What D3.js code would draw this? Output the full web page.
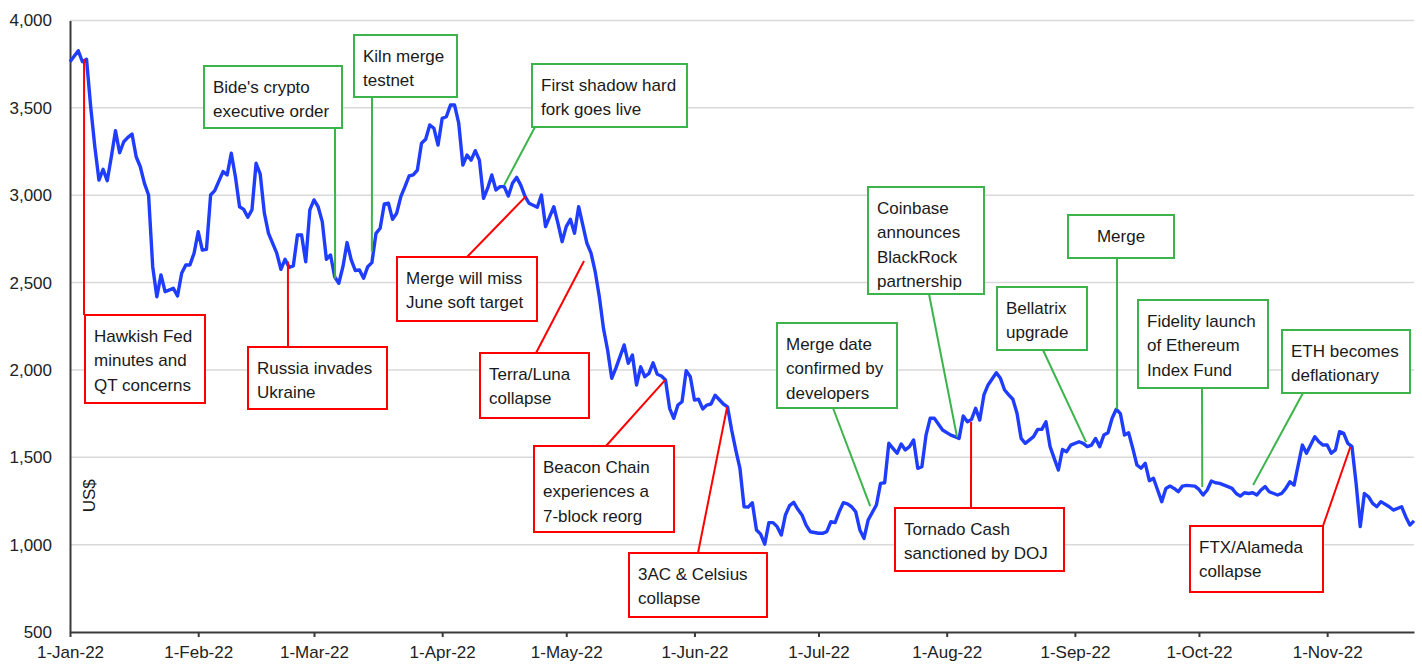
<!DOCTYPE html>
<html>
<head>
<meta charset="utf-8">
<script src="https://cdn.jsdelivr.net/npm/d3@7"></script>
<style>
  body { margin: 0; background: #fff; }
  svg { display: block; font-family: "Liberation Sans", Arial, sans-serif; }
  .grid line { stroke: #d9d9d9; stroke-width: 1.5; }
  .axis path, .axis line { stroke: #3a3a3a; stroke-width: 2; }
  .axis text { fill: #222; font-size: 17px; }
  .eth-line { fill: none; stroke: #1f3dff; stroke-width: 3.4; stroke-linejoin: round; }
  .note-box { fill: #fff; stroke-width: 2; }
  .note-link { stroke-width: 2; }
  .note-text { fill: #1a1a1a; font-size: 17px; }
</style>
</head>
<body>
<div id="chart"></div>
<script>

// ETH price (US$); day = days after 1-Jan-22
var days = [
  0, 2, 3, 4, 5, 6, 7, 8, 9, 10,
  11, 12, 13, 14, 15, 16, 17, 18, 19, 20,
  21, 22, 23, 25, 26, 27, 28, 29, 30, 31,
  32, 33, 34, 35, 37, 38, 39, 40, 41, 42,
  43, 44, 45, 46, 47, 48, 50, 51, 52, 53,
  54, 55, 56, 57, 58, 59, 60, 61, 62, 63,
  64, 65, 66, 67, 68, 69, 70, 71, 72, 73,
  74, 75, 76, 77, 78, 79, 80, 81, 82, 83,
  84, 85, 86, 87, 88, 89, 90, 91, 92, 93,
  94, 95, 96, 97, 98, 99, 100, 101, 102, 103,
  104, 105, 106, 107, 108, 109, 110, 111, 113, 114,
  115, 116, 117, 118, 119, 120, 121, 122, 123, 125,
  126, 127, 128, 129, 130, 131, 132, 133, 134, 135,
  136, 137, 138, 139, 140, 141, 142, 143, 144, 145,
  146, 147, 148, 149, 150, 151, 152, 153, 154, 155,
  156, 158, 159, 160, 161, 162, 163, 164, 165, 166,
  167, 168, 169, 170, 171, 172, 173, 174, 175, 176,
  177, 178, 179, 181, 182, 183, 184, 185, 186, 187,
  188, 189, 190, 191, 192, 193, 195, 196, 197, 198,
  199, 200, 201, 202, 203, 204, 205, 206, 207, 208,
  209, 211, 213, 214, 215, 216, 217, 218, 219, 220,
  221, 222, 224, 225, 226, 227, 228, 229, 230, 231,
  233, 234, 235, 236, 237, 238, 239, 240, 241, 242,
  244, 245, 246, 247, 248, 249, 250, 251, 252, 253,
  254, 255, 256, 257, 258, 259, 260, 261, 262, 263,
  264, 265, 266, 267, 268, 269, 270, 272, 273, 274,
  275, 276, 277, 278, 280, 281, 282, 283, 284, 285,
  286, 287, 288, 289, 290, 292, 293, 294, 295, 296,
  297, 298, 299, 300, 301, 302, 303, 304, 305, 306,
  307, 308, 309, 310, 311, 312, 313, 314, 315, 316,
  317, 319, 320, 322, 323, 324, 325
];

var prices = [
  3764, 3827, 3764, 3778, 3507, 3278, 3087, 3148, 3083, 3220,
  3369, 3243, 3306, 3331, 3350, 3220, 3163, 3068, 3001, 2591,
  2419, 2544, 2448, 2467, 2423, 2553, 2601, 2601, 2668, 2791,
  2686, 2690, 3001, 3026, 3135, 3116, 3240, 3106, 2934, 2919,
  2874, 2916, 3183, 3121, 2897, 2782, 2668, 2576, 2633, 2587,
  2595, 2772, 2772, 2619, 2916, 2973, 2934, 2849, 2633, 2658,
  2533, 2496, 2591, 2729, 2630, 2569, 2572, 2525, 2591, 2614,
  2782, 2811, 2950, 2954, 2862, 2897, 2992, 3049, 3110, 3116,
  3144, 3297, 3320, 3402, 3383, 3287, 3440, 3449, 3516, 3516,
  3412, 3173, 3230, 3201, 3255, 3201, 2982, 3040, 3116, 3030,
  3049, 3049, 2995, 3068, 3102, 3058, 2995, 2954, 2931, 3001,
  2820, 2877, 2934, 2839, 2734, 2820, 2862, 2782, 2934, 2725,
  2668, 2562, 2419, 2238, 2114, 1952, 2010, 2076, 2143, 2038,
  2086, 1914, 2018, 1961, 1980, 2041, 1975, 1965, 1943, 1780,
  1723, 1799, 1818, 1996, 1961, 1828, 1832, 1777, 1799, 1805,
  1855, 1805, 1789, 1656, 1541, 1437, 1217, 1215, 1240, 1084,
  1060, 1003, 1126, 1126, 1103, 1055, 1170, 1223, 1242, 1202,
  1170, 1112, 1074, 1065, 1065, 1074, 1131, 1126, 1188, 1240,
  1233, 1217, 1188, 1084, 1036, 1141, 1227, 1351, 1354, 1580,
  1551, 1523, 1576, 1542, 1561, 1599, 1437, 1446, 1627, 1723,
  1723, 1656, 1627, 1618, 1608, 1736, 1703, 1717, 1780, 1713,
  1857, 1914, 1984, 1952, 1885, 1857, 1832, 1752, 1608, 1580,
  1618, 1660, 1660, 1703, 1561, 1494, 1427, 1545, 1532, 1570,
  1589, 1580, 1561, 1570, 1608, 1561, 1627, 1640, 1723, 1775,
  1750, 1627, 1640, 1551, 1456, 1437, 1466, 1366, 1380, 1313,
  1246, 1322, 1335, 1322, 1303, 1335, 1339, 1335, 1316, 1284,
  1313, 1364, 1354, 1351, 1332, 1322, 1293, 1278, 1297, 1293,
  1297, 1284, 1313, 1332, 1303, 1284, 1293, 1322, 1360, 1341,
  1456, 1570, 1523, 1570, 1618, 1589, 1570, 1570, 1523, 1542,
  1647, 1637, 1580, 1561, 1351, 1103, 1293, 1274, 1236, 1217,
  1246, 1217, 1198, 1217, 1160, 1112, 1136
];

var xTickLabels = ['1-Jan-22', '1-Feb-22', '1-Mar-22', '1-Apr-22', '1-May-22', '1-Jun-22',
                   '1-Jul-22', '1-Aug-22', '1-Sep-22', '1-Oct-22', '1-Nov-22'];
var yTicks = [500, 1000, 1500, 2000, 2500, 3000, 3500, 4000];

// Events: text, kind (red = negative, green = network milestone),
// and where the pointer touches the chart (day after 1-Jan-22, US$)
var eventText = [
  ['Hawkish Fed', 'minutes and', 'QT concerns'],
  ['Russia invades', 'Ukraine'],
  ["Bide's crypto", 'executive order'],
  ['Kiln merge', 'testnet'],
  ['First shadow hard', 'fork goes live'],
  ['Merge will miss', 'June soft target'],
  ['Terra/Luna', 'collapse'],
  ['Beacon Chain', 'experiences a', '7-block reorg'],
  ['3AC & Celsius', 'collapse'],
  ['Merge date', 'confirmed by', 'developers'],
  ['Coinbase', 'announces', 'BlackRock', 'partnership'],
  ['Tornado Cash', 'sanctioned by DOJ'],
  ['Bellatrix', 'upgrade'],
  ['Merge'],
  ['Fidelity launch', 'of Ethereum', 'Index Fund'],
  ['ETH becomes', 'deflationary'],
  ['FTX/Alameda', 'collapse']
];
var eventKind = ['red', 'red', 'green', 'green', 'green', 'red', 'red', 'red', 'red',
                 'green', 'green', 'red', 'green', 'green', 'green', 'green', 'red'];
var eventDay = [3.4, 52.7, 64.1, 73, 105, 110.3, 124.3, 143.9, 158.9,
                193.5, 214.5, 217.9, 245.7, 253.2, 273.8, 286.1, 309.6];
var eventPrice = [3778, 2620, 2524, 2677, 3058, 2995, 2623, 1942, 1788,
                  1221, 1616, 1703, 1587, 1777, 1330, 1341, 1559];

// Box layout on the page (x, y, w, h), where the pointer leaves the box
var boxLayout = [
  { x: 85,   y: 315, w: 120, h: 88,  sx: -1,  edge: 'top' },
  { x: 248,  y: 347, w: 139, h: 62,  sx: 40,  edge: 'top' },
  { x: 204,  y: 66,  w: 138, h: 62,  sx: 131, edge: 'bottom' },
  { x: 354,  y: 35,  w: 103, h: 62,  sx: 18,  edge: 'bottom' },
  { x: 532,  y: 64,  w: 155, h: 63,  sx: 3,   edge: 'bottom' },
  { x: 397,  y: 257, w: 140, h: 64,  sx: 70,  edge: 'top' },
  { x: 480,  y: 353, w: 109, h: 65,  sx: 56,  edge: 'top' },
  { x: 534,  y: 446, w: 140, h: 86,  sx: 72,  edge: 'top' },
  { x: 629,  y: 553, w: 138, h: 64,  sx: 69,  edge: 'top' },
  { x: 777,  y: 323, w: 120, h: 85,  sx: 56,  edge: 'bottom' },
  { x: 868,  y: 187, w: 116, h: 107, sx: 61,  edge: 'bottom' },
  { x: 895,  y: 508, w: 169, h: 63,  sx: 76,  edge: 'top' },
  { x: 997,  y: 287, w: 90,  h: 63,  sx: 46,  edge: 'bottom' },
  { x: 1068, y: 215, w: 106, h: 43,  sx: 49,  edge: 'bottom', center: true },
  { x: 1138, y: 300, w: 130, h: 88,  sx: 64,  edge: 'bottom' },
  { x: 1282, y: 330, w: 128, h: 63,  sx: 21,  edge: 'bottom' },
  { x: 1190, y: 526, w: 133, h: 66,  sx: 133, edge: 'top' }
];

var colors = { red: '#ff0000', green: '#3cb44b' };

var width = 1422,
    height = 666,
    plotLeft = 70,
    plotRight = 1414,
    plotTop = 20.5,
    plotBottom = 632;

var start = Date.UTC(2022, 0, 1);
function dayToDate(d){ return new Date(start + d * 864e5); }

var x = d3.scaleUtc()
  .domain([dayToDate(0), dayToDate(325)])
  .range([plotLeft, plotRight]);

var y = d3.scaleLinear()
  .domain([500, 4000])
  .range([plotBottom, plotTop]);

var svg = d3.select('#chart')
  .append('svg')
    .attr('width', width)
    .attr('height', height);

svg.append('rect')
  .attr('width', width)
  .attr('height', height)
  .attr('fill', '#fff');

// Gridlines
svg.append('g')
  .attr('class', 'grid')
  .selectAll('line')
  .data(yTicks.filter(function(v){ return v > 500; }))
  .enter()
    .append('line')
      .attr('x1', plotLeft)
      .attr('x2', plotRight)
      .attr('y1', function(d){ return y(d); })
      .attr('y2', function(d){ return y(d); });

// Axes
var parseTick = d3.utcParse('%d-%b-%y');
svg.append('g')
  .attr('class', 'axis')
  .attr('transform', 'translate(0,' + plotBottom + ')')
  .call(d3.axisBottom(x)
    .tickValues(xTickLabels.map(parseTick))
    .tickFormat(d3.utcFormat('%-d-%b-%y'))
    .tickSizeInner(5)
    .tickSizeOuter(0)
    .tickPadding(9));

svg.append('g')
  .attr('class', 'axis')
  .attr('transform', 'translate(' + plotLeft + ',0)')
  .call(d3.axisLeft(y)
    .tickValues(yTicks)
    .tickFormat(d3.format(','))
    .tickSize(0)
    .tickPadding(18));

// Unit label
svg.append('text')
  .attr('transform', 'translate(95,' + y(1280) + ') rotate(-90)')
  .attr('text-anchor', 'middle')
  .attr('font-size', 17)
  .attr('fill', '#1a1a1a')
  .text('US$');

// Price line
var line = d3.line()
  .x(function(d, i){ return x(dayToDate(days[i])); })
  .y(function(d){ return y(d); });

svg.append('path')
  .datum(prices)
  .attr('class', 'eth-line')
  .attr('d', line);

// Event callouts
var notes = svg.selectAll('.note')
  .data(eventText)
  .enter()
    .append('g')
      .attr('class', 'note');

notes.append('line')
  .attr('class', 'note-link')
  .attr('stroke', function(d, i){ return colors[eventKind[i]]; })
  .attr('x1', function(d, i){ return boxLayout[i].x + boxLayout[i].sx; })
  .attr('y1', function(d, i){
    var b = boxLayout[i];
    return b.edge === 'top' ? b.y : b.y + b.h;
  })
  .attr('x2', function(d, i){ return x(dayToDate(eventDay[i])); })
  .attr('y2', function(d, i){ return y(eventPrice[i]); });

notes.append('rect')
  .attr('class', 'note-box')
  .attr('stroke', function(d, i){ return colors[eventKind[i]]; })
  .attr('x', function(d, i){ return boxLayout[i].x; })
  .attr('y', function(d, i){ return boxLayout[i].y; })
  .attr('width', function(d, i){ return boxLayout[i].w; })
  .attr('height', function(d, i){ return boxLayout[i].h; });

notes.each(function(lines, i){
  var b = boxLayout[i];
  var t = d3.select(this).append('text')
    .attr('class', 'note-text')
    .attr('text-anchor', b.center ? 'middle' : 'start');
  t.selectAll('tspan')
    .data(lines)
    .enter()
      .append('tspan')
        .attr('x', b.center ? b.x + b.w / 2 : b.x + 9)
        .attr('y', function(d, j){ return b.y + 26.5 + j * 24.5; })
        .text(function(d){ return d; });
});

</script>
</body>
</html>
